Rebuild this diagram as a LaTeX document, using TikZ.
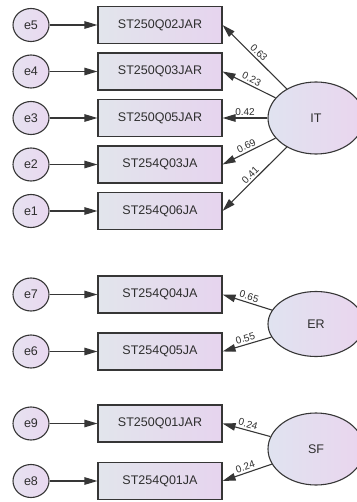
\documentclass[tikz,border=0pt]{standalone}
\usepackage{fontspec}
\setmainfont{Liberation Sans}
\usetikzlibrary{shapes.geometric,arrows.meta}

\definecolor{linec}{HTML}{363636}
\definecolor{txt}{HTML}{2E2E2E}
\definecolor{boxl}{HTML}{E2E5EC}
\definecolor{boxr}{HTML}{E6D4EE}
\definecolor{errl}{HTML}{E6E2F0}
\definecolor{errr}{HTML}{E9D8F0}
\definecolor{latl}{HTML}{E0E3F0}
\definecolor{latr}{HTML}{EAD5EE}

\tikzset{
  obs/.style={rectangle, draw=linec, line width=1.1pt, minimum width=124pt,
    minimum height=37pt, inner sep=0pt, left color=boxl, right color=boxr,
    text=txt, font=\fontsize{12.5}{14}\selectfont},
  err/.style={ellipse, draw=linec, line width=1.1pt, minimum width=36pt,
    minimum height=33pt, inner sep=0pt, left color=errl, right color=errr,
    text=txt, font=\fontsize{12.5}{14}\selectfont},
  lat/.style={ellipse, draw=linec, line width=1.1pt, minimum width=96pt,
    inner sep=0pt, left color=latl, right color=latr,
    text=txt, font=\fontsize{12.5}{14}\selectfont},
  link/.style={draw=linec, line width=1.1pt,
    -{Triangle[length=13pt,width=7.5pt]}},
  coef/.style={sloped, above, inner sep=2pt, text=txt,
    font=\fontsize{10}{11}\selectfont},
}

\begin{document}
\begin{tikzpicture}[x=1pt, y=-1pt]
\useasboundingbox (0,0) rectangle (356,502);

% observed indicators
\node[obs] (q1) at (160,25)    {ST250Q02JAR};
\node[obs] (q2) at (160,71.5)  {ST250Q03JAR};
\node[obs] (q3) at (160,118)   {ST250Q05JAR};
\node[obs] (q4) at (160,164.5) {ST254Q03JA};
\node[obs] (q5) at (160,211)   {ST254Q06JA};
\node[obs] (q6) at (160,294.5) {ST254Q04JA};
\node[obs] (q7) at (160,351.5) {ST254Q05JA};
\node[obs] (q8) at (160,423.5) {ST250Q01JAR};
\node[obs] (q9) at (160,481)   {ST254Q01JA};

% error terms
\node[err] (e5) at (31,25)    {e5};
\node[err] (e4) at (31,71.5)  {e4};
\node[err] (e3) at (31,118)   {e3};
\node[err] (e2) at (31,164.5) {e2};
\node[err] (e1) at (31,211)   {e1};
\node[err] (e7) at (31,294.5) {e7};
\node[err] (e6) at (31,351.5) {e6};
\node[err] (e9) at (31,423.5) {e9};
\node[err] (e8) at (31,481)   {e8};

% latent factors
\node[lat, minimum height=72pt] (IT) at (316,118) {IT};
\node[lat, minimum height=65pt] (ER) at (316,324) {ER};
\node[lat, minimum height=72pt] (SF) at (316,449) {SF};

% error paths
\foreach \e/\q in {e5/q1,e4/q2,e3/q3,e2/q4,e1/q5,e7/q6,e6/q7,e9/q8,e8/q9}
  \draw[link] (\e) -- (\q);

% factor loadings
\draw[link] (IT) -- node[coef] {0.63} (q1.east);
\draw[link] (IT) -- node[coef] {0.23} (q2.east);
\draw[link] (IT) -- node[coef] {0.42} (q3.east);
\draw[link] (IT) -- node[coef] {0.69} (q4.east);
\draw[link] (IT) -- node[coef] {0.41} (q5.east);
\draw[link] (ER) -- node[coef] {0.65} (q6.east);
\draw[link] (ER) -- node[coef] {0.55} (q7.east);
\draw[link] (SF) -- node[coef] {0.24} (q8.east);
\draw[link] (SF) -- node[coef] {0.24} (q9.east);
\end{tikzpicture}
\end{document}
